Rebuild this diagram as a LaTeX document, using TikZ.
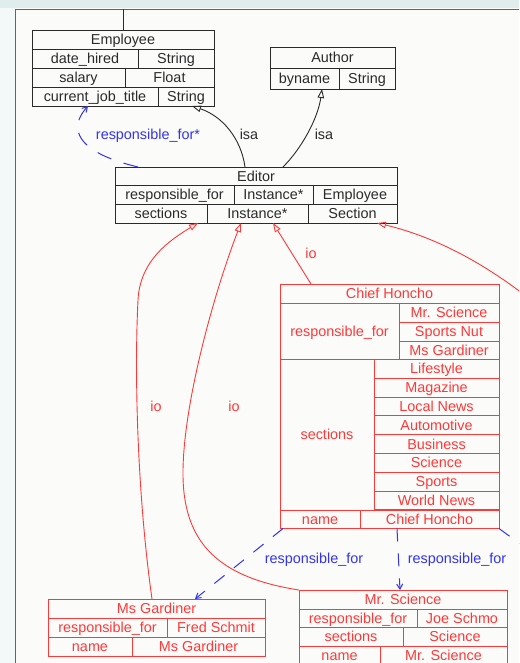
\documentclass[tikz,border=0pt]{standalone}
\usepackage{fontspec}
\setmainfont{Liberation Sans}
\usetikzlibrary{arrows.meta}

\definecolor{ink}{HTML}{2A2A2A}
\definecolor{rd}{HTML}{FF3838}
\definecolor{bl}{HTML}{3333F0}
\definecolor{band}{HTML}{E1EDED}
\definecolor{edge}{HTML}{2E7B78}
\definecolor{paper}{HTML}{FBFCFA}
\definecolor{margin}{HTML}{F3F8F8}

\tikzset{
  cell/.style={draw, inner sep=0pt, outer sep=0pt, line width=0.9pt,
    font=\fontsize{14.4}{16}\selectfont, text height=10pt, text depth=0pt},
  blackcell/.style={cell, draw=ink, text=ink},
  redcell/.style={cell, draw=rd, text=rd},
  isa/.style={draw=ink, line width=0.9pt, -{Triangle[open,length=9pt,width=6.5pt]}},
  io/.style={draw=rd, line width=0.9pt, -{Triangle[open,length=9pt,width=6.5pt]}},
  rel/.style={draw=bl, line width=1pt, dash pattern=on 13pt off 12pt,
    -{Straight Barb[length=5pt,width=6pt]}},
  lbl/.style={inner sep=0pt, font=\fontsize{14.4}{16}\selectfont, text height=10pt, text depth=0pt},
}

% one table cell: [style]{name}{x1}{y1}{x2}{y2}{text}
\newcommand{\cellat}[7][blackcell]{%
  \node[#1, minimum width={(#5-#3)*1pt}, minimum height={(#6-#4)*1pt}]
    (#2) at ({(#3+#5)/2},{(#4+#6)/2}) {#7};}

\begin{document}
\begin{tikzpicture}[x=1pt, y=-1pt]
\useasboundingbox (0,0) rectangle (519,663);
\clip (0,0) rectangle (519,663);

% window frame
\fill[paper] (0,0) rectangle (519,663);
\fill[margin] (0,0) rectangle (15,663);
\fill[band] (0,0) rectangle (519,8.5);
\draw[edge, line width=1.4pt] (15.5,663) -- (15.5,9.5) -- (519,9.5);

% Employee
\cellat{empT}{32}{30}{214}{49}{Employee}
\cellat{empDa}{32}{49}{138}{68}{date\_hired}
\cellat{empDb}{138}{49}{214}{68}{String}
\cellat{empSa}{32}{68}{125}{87}{salary}
\cellat{empSb}{125}{68}{214}{87}{Float}
\cellat{empCa}{32}{87}{158}{106}{current\_job\_title}
\cellat{empCb}{158}{87}{214}{106}{String}

% Author
\cellat{auT}{270}{47}{395}{68}{Author}
\cellat{auBa}{270}{68}{339}{89}{byname}
\cellat{auBb}{339}{68}{395}{89}{String}

% Editor
\cellat{edT}{115}{167}{397}{185}{Editor}
\cellat{edRa}{115}{185}{234}{204}{responsible\_for}
\cellat{edRb}{234}{185}{313}{204}{Instance*}
\cellat{edRc}{313}{185}{397}{204}{Employee}
\cellat{edSa}{115}{204}{207}{223}{sections}
\cellat{edSb}{207}{204}{308}{223}{Instance*}
\cellat{edSc}{308}{204}{397}{223}{Section}

% Chief Honcho
\cellat[redcell]{chT}{280}{284}{499}{303}{Chief Honcho}
\cellat[redcell]{chR}{280}{303}{399}{359.5}{responsible\_for}
\cellat[redcell]{chR1}{399}{303}{499}{322}{Mr. Science}
\cellat[redcell]{chR2}{399}{322}{499}{341}{Sports Nut}
\cellat[redcell]{chR3}{399}{341}{499}{359.5}{Ms Gardiner}
\cellat[redcell]{chS}{280}{359.5}{374}{510}{sections}
\foreach \t [count=\i from 0] in {Lifestyle,Magazine,Local News,Automotive,Business,Science,Sports,World News}{
  \pgfmathsetmacro{\ya}{359.5+18.8*\i}
  \pgfmathsetmacro{\yb}{359.5+18.8*(\i+1)}
  \cellat[redcell]{chS\i}{374}{\ya}{499}{\yb}{\t}
}
\cellat[redcell]{chNa}{280}{510}{360}{528.5}{name}
\cellat[redcell]{chNb}{360}{510}{499}{528.5}{Chief Honcho}

% Ms Gardiner
\cellat[redcell]{msT}{48}{599}{265}{618}{Ms Gardiner}
\cellat[redcell]{msRa}{48}{618}{167}{637}{responsible\_for}
\cellat[redcell]{msRb}{167}{618}{265}{637}{Fred Schmit}
\cellat[redcell]{msNa}{48}{637}{132}{656}{name}
\cellat[redcell]{msNb}{132}{637}{265}{656}{Ms Gardiner}

% Mr. Science
\cellat[redcell]{mrT}{299}{590}{507}{609}{Mr. Science}
\cellat[redcell]{mrRa}{299}{609}{417}{627.5}{responsible\_for}
\cellat[redcell]{mrRb}{417}{609}{507}{627.5}{Joe Schmo}
\cellat[redcell]{mrSa}{299}{627.5}{403}{646}{sections}
\cellat[redcell]{mrSb}{403}{627.5}{507}{646}{Science}
\cellat[redcell]{mrNa}{299}{646}{380}{665}{name}
\cellat[redcell]{mrNb}{380}{646}{507}{665}{Mr. Science}

% free ends
\coordinate (frameTop) at (123,9.5);
\coordinate (offIo) at (560,325);
\coordinate (offRel) at (560,573);

% Employee hangs from the frame
\draw[ink, line width=0.9pt] ([xshift=91pt]empT.north west) -- (frameTop);

% isa links
\draw[isa] ([xshift=130pt]edT.north west)
  .. controls (241,138) and (222,116) .. ([xshift=34pt]empCb.south west);
\draw[isa] ([xshift=168pt]edT.north west)
  .. controls (302,148) and (318,118) .. ([xshift=52pt]auBa.south west);

% responsible_for* (class level)
\draw[rel, dash pattern=on 15pt off 13pt] ([xshift=23pt]edT.north west)
  .. controls (75,152) and (68,128) .. ([xshift=56pt]empCa.south west);

% io links
\draw[io] ([xshift=104pt]msT.north west)
  .. controls (138,500) and (134,380) .. (138,300)
  .. controls (140,260) and (170,240) .. ([xshift=-9pt]edSa.south east);
\draw[io] (mrT.north west)
  .. controls (215,577) and (182,540) .. (183,470)
  .. controls (184,400) and (215,290) .. ([xshift=34pt]edSb.south west);
\draw[io] ([xshift=31pt]chT.north west) -- ([xshift=66pt]edSb.south west);
\draw[io] (offIo)
  .. controls (500,270) and (440,238) .. ([xshift=69pt]edSc.south west);

% responsible_for (instance level)
\draw[rel] ([xshift=3pt]chNa.south west) -- ([xshift=147pt]msT.north west);
\draw[rel] ([xshift=37pt]chNb.south west) -- ([xshift=101pt]mrT.north west);
\draw[rel] (chNb.south east) -- (offRel);

% labels
\node[lbl, text=bl] (lbRespStar) at (148,135) {responsible\_for*};
\node[lbl, text=ink] (lbIsaEmp) at (249,135) {isa};
\node[lbl, text=ink] (lbIsaAut) at (324,135) {isa};
\node[lbl, text=rd] (lbIoMs) at (156,406) {io};
\node[lbl, text=rd] (lbIoMr) at (234,406) {io};
\node[lbl, text=rd] (lbIoCh) at (311,253) {io};
\node[lbl, text=bl] (lbRespMs) at (314,558) {responsible\_for};
\node[lbl, text=bl] (lbRespMr) at (457,558) {responsible\_for};
\end{tikzpicture}
\end{document}
